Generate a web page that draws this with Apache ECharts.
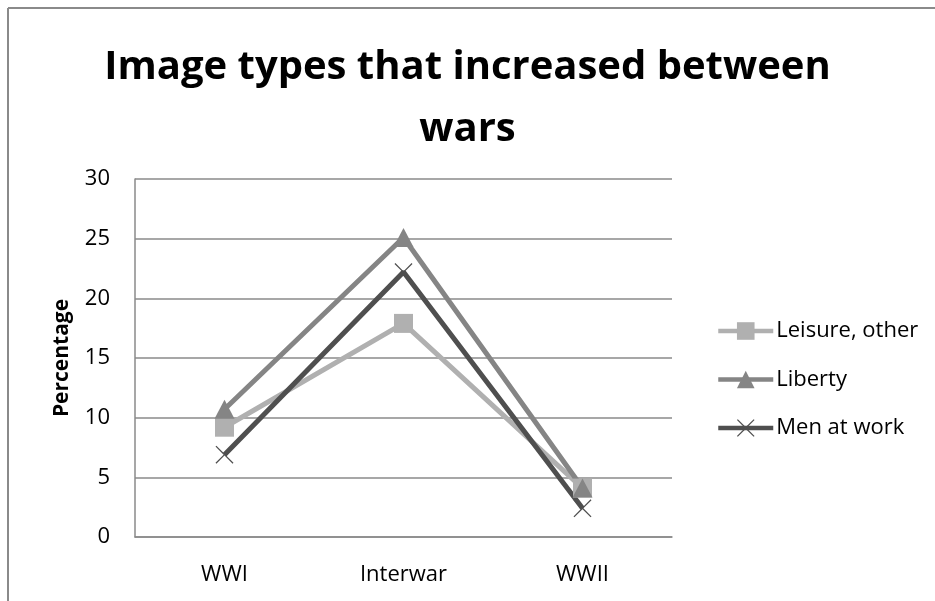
<!DOCTYPE html>
<html>
<head>
<meta charset="utf-8">
<script src="https://cdn.jsdelivr.net/npm/echarts@6/dist/echarts.min.js"></script>
<style>
html,body{margin:0;padding:0;background:#fff;}
#chart{width:935px;height:601px;}
</style>
</head>
<body>
<div id="chart"></div>
<script>
const titleText = 'Image types that increased between\nwars';
const categories = ['WWI', 'Interwar', 'WWII'];
const leisureOther = [9.2, 17.9, 4.1];
const liberty = [10.7, 25.1, 4.1];
const menAtWork = [6.9, 22.2, 2.4];
const yTicks = [0, 5, 10, 15, 20, 25, 30];
const yAxisName = 'Percentage';

const xPath = 'path://M0,1L1,0L10,9L19,0L20,1L11,10L20,19L19,20L10,11L1,20L0,19L9,10Z';
const FONT = 'Open Sans';

const chart = echarts.init(document.getElementById('chart'), null, {renderer: 'canvas'});
chart.setOption({
  backgroundColor: '#ffffff',
  animation: false,
  title: {
    text: titleText,
    left: 'center',
    top: 32,
    textStyle: {fontFamily: FONT, fontWeight: 'bold', fontSize: 40, lineHeight: 62, color: '#000'}
  },
  graphic: [
    {type: 'line', shape: {x1: 8, y1: 8, x2: 935, y2: 8}, style: {stroke: '#8a8a8a', lineWidth: 2}},
    {type: 'line', shape: {x1: 8, y1: 8, x2: 8, y2: 601}, style: {stroke: '#8a8a8a', lineWidth: 2}}
  ],
  grid: {left: 135, right: 263, top: 179, bottom: 64, containLabel: false},
  legend: {
    orient: 'vertical',
    left: 711,
    top: 314,
    itemWidth: 55,
    itemHeight: 22,
    itemGap: 24.5,
    lineStyle: {width: 4.5},
    textStyle: {fontFamily: FONT, fontSize: 22, color: '#000', lineHeight: 24, padding: [0, 0, 0, -2]},
    data: ['Leisure, other', 'Liberty', 'Men at work']
  },
  xAxis: {
    type: 'category',
    data: categories,
    boundaryGap: true,
    axisLine: {show: true, lineStyle: {color: '#8a8a8a', width: 1.5}},
    axisTick: {show: false},
    axisLabel: {fontFamily: FONT, fontSize: 22, color: '#000', margin: 27}
  },
  yAxis: {
    type: 'value',
    min: yTicks[0],
    max: yTicks[yTicks.length - 1],
    interval: 5,
    name: yAxisName,
    nameLocation: 'middle',
    nameRotate: 90,
    nameGap: 62,
    nameTextStyle: {fontFamily: FONT, fontWeight: 'bold', fontSize: 21, color: '#000'},
    axisLine: {show: true, lineStyle: {color: '#8a8a8a', width: 1.5}},
    axisTick: {show: false},
    splitLine: {show: true, lineStyle: {color: '#8a8a8a', width: 1.5}},
    axisLabel: {fontFamily: FONT, fontSize: 22, color: '#000', margin: 25}
  },
  series: [
    {
      name: 'Leisure, other', type: 'line', data: leisureOther,
      symbol: 'rect', symbolSize: 19,
      lineStyle: {color: '#b0b0b0', width: 5},
      itemStyle: {color: '#b0b0b0'}
    },
    {
      name: 'Liberty', type: 'line', data: liberty,
      symbol: 'triangle', symbolSize: [20, 19],
      lineStyle: {color: '#858585', width: 5},
      itemStyle: {color: '#858585'}
    },
    {
      name: 'Men at work', type: 'line', data: menAtWork,
      symbol: xPath, symbolSize: 18,
      lineStyle: {color: '#4f4f4f', width: 5},
      itemStyle: {color: '#4f4f4f'}
    }
  ]
});
</script>
</body>
</html>
